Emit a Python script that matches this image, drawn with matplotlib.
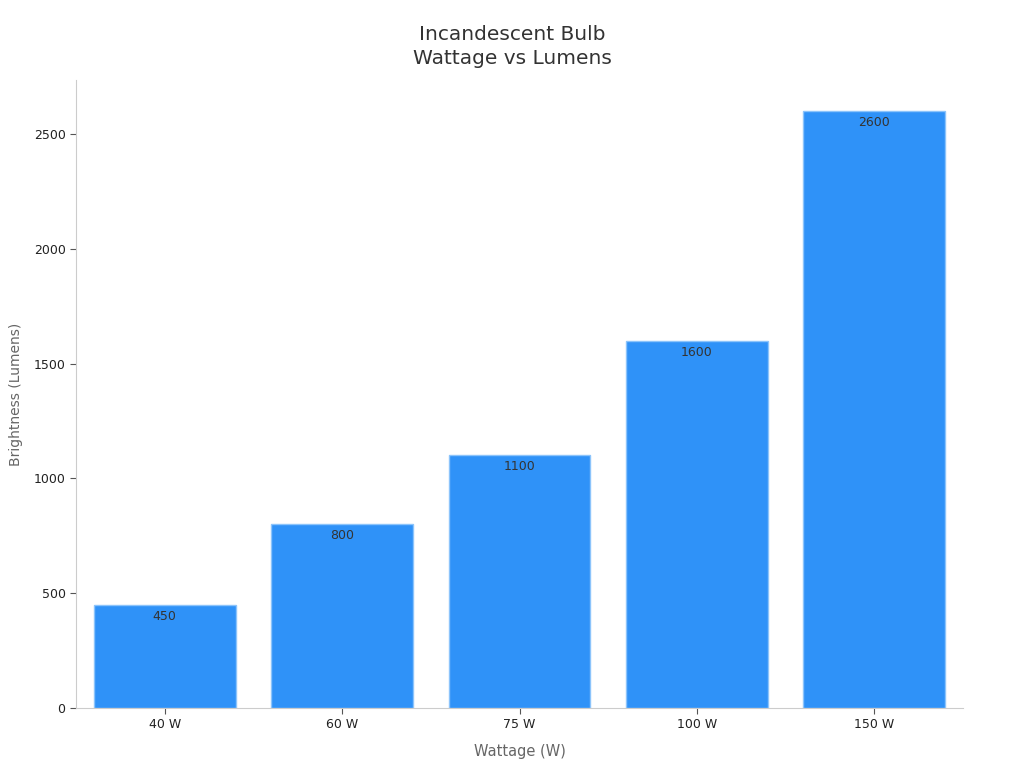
import matplotlib
matplotlib.use("Agg")
import matplotlib.pyplot as plt

categories = ["40 W", "60 W", "75 W", "100 W", "150 W"]
lumens = [450, 800, 1100, 1600, 2600]
yticks = [0, 500, 1000, 1500, 2000, 2500]

plt.rcParams['font.family'] = ['DejaVu Sans']
fig = plt.figure(figsize=(10.24, 7.68), dpi=100)
ax = fig.add_axes([76/1024, 1-708/768, (963-76)/1024, (708-80)/768])

x = range(len(categories))
bars = ax.bar(x, lumens, width=0.8, color="#2f92f8", edgecolor="#8cc4fb", linewidth=1)
for xi, v in zip(x, lumens):
    ax.text(xi, v - 22, f"{v}", ha="center", va="top", fontsize=9, color="#333333")

ax.set_xlim(-0.5, 4.5)
ax.set_ylim(0, 2735)
ax.set_xticks(list(x))
ax.set_xticklabels(categories, fontsize=9, color="#222222")
ax.set_yticks(yticks)
ax.set_yticklabels([str(t) for t in yticks], fontsize=9, color="#222222")
for s in ["top", "right"]:
    ax.spines[s].set_visible(False)
for s in ["left", "bottom"]:
    ax.spines[s].set_color("#cccccc")
ax.tick_params(axis="both", colors="#555555", labelcolor="#222222", length=4)
ax.set_xlabel("Wattage (W)", fontsize=10.5, color="#666666", labelpad=9)
ax.set_ylabel("Brightness (Lumens)", fontsize=10, color="#666666", labelpad=8)
fig.suptitle("Incandescent Bulb\nWattage vs Lumens", fontsize=14.5, color="#333333",
             y=0.968, linespacing=1.35)

fig.savefig("out.png", dpi=100)
